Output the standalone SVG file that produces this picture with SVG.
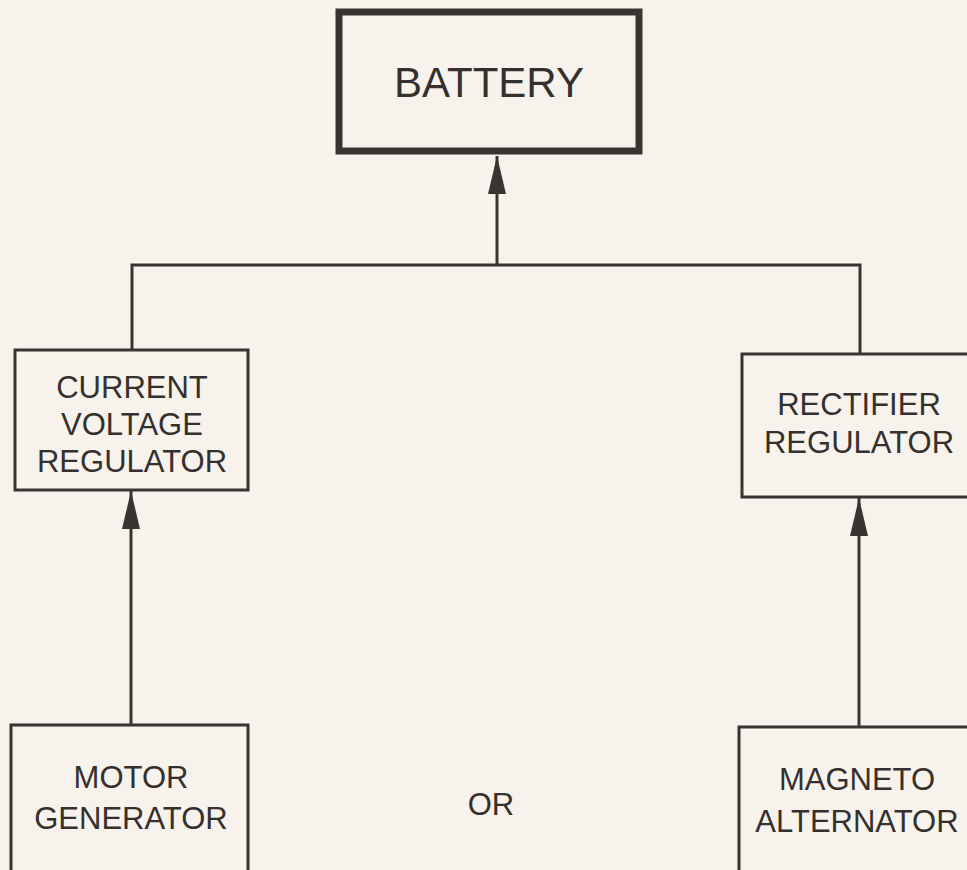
<svg xmlns="http://www.w3.org/2000/svg" width="967" height="870" viewBox="0 0 967 870">
  <defs>
    <style>
      .box { fill: none; stroke: #3a3431; stroke-width: 3; }
      .main { fill: none; stroke: #3a3431; stroke-width: 7; }
      .conn { fill: none; stroke: #3a3431; stroke-width: 3; }
      .lbl { font-family: "Liberation Sans", Arial, sans-serif; fill: #35302e; text-anchor: middle; font-size: 31px; }
      .big { font-size: 42px; }
    </style>
    <marker id="arrow" markerUnits="userSpaceOnUse" viewBox="0 0 38 18" refX="38" refY="9" markerWidth="38" markerHeight="18" orient="auto">
      <path d="M0,0 L38,9 L0,18 Z" fill="#3a3431"/>
    </marker>
  </defs>
  <rect width="967" height="870" fill="#f7f3ec"/>

  <g id="connectors">
    <polyline class="conn" points="132,350 132,265 860,265 860,353"/>
    <line class="conn" x1="497" y1="265" x2="497" y2="156" marker-end="url(#arrow)"/>
    <line class="conn" x1="131" y1="725" x2="131" y2="491" marker-end="url(#arrow)"/>
    <line class="conn" x1="859" y1="727" x2="859" y2="498" marker-end="url(#arrow)"/>
  </g>

  <g id="battery">
    <rect class="main" x="339" y="12" width="300" height="139"/>
    <text class="lbl big" x="489" y="97">BATTERY</text>
  </g>

  <g id="current-voltage-regulator">
    <rect class="box" x="15" y="350" width="233" height="140"/>
    <text class="lbl" x="132" y="398">CURRENT</text>
    <text class="lbl" x="132" y="435">VOLTAGE</text>
    <text class="lbl" x="132" y="472">REGULATOR</text>
  </g>

  <g id="rectifier-regulator">
    <rect class="box" x="742" y="354" width="240" height="143"/>
    <text class="lbl" x="859" y="415">RECTIFIER</text>
    <text class="lbl" x="859" y="453">REGULATOR</text>
  </g>

  <g id="motor-generator">
    <rect class="box" x="11" y="725" width="237" height="160"/>
    <text class="lbl" x="131" y="788">MOTOR</text>
    <text class="lbl" x="131" y="829">GENERATOR</text>
  </g>

  <g id="or-label">
    <text class="lbl" x="491" y="815">OR</text>
  </g>

  <g id="magneto-alternator">
    <rect class="box" x="739" y="727" width="250" height="160"/>
    <text class="lbl" x="857" y="790">MAGNETO</text>
    <text class="lbl" x="857" y="832">ALTERNATOR</text>
  </g>
</svg>
